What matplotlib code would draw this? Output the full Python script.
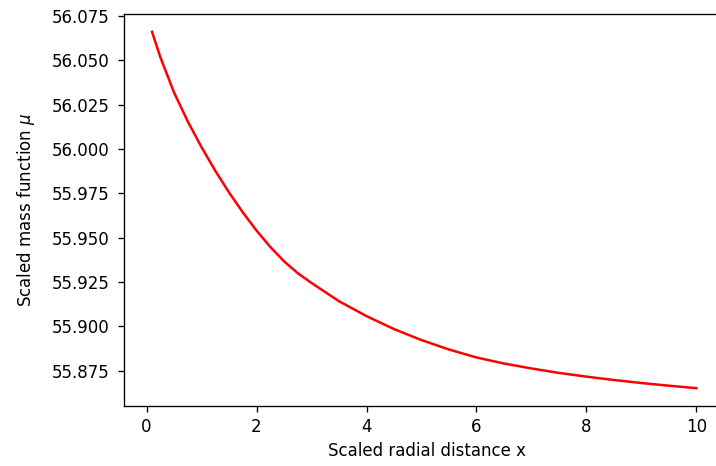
import matplotlib
matplotlib.use("Agg")
import matplotlib.pyplot as plt

x_vals = [0.1, 0.25, 0.5, 0.75, 1.0, 1.25, 1.5, 1.75, 2.0, 2.25, 2.5, 2.75, 3.0,
          3.5, 4.0, 4.5, 5.0, 5.5, 6.0, 6.5, 7.0, 7.5, 8.0, 8.5, 9.0, 9.5, 10.0]
mu_vals = [56.066, 56.0518, 56.0318, 56.0155, 56.0010, 55.9877, 55.9755, 55.9643,
           55.9540, 55.9448, 55.9367, 55.9300, 55.9245, 55.9142, 55.9058, 55.8985,
           55.8923, 55.8870, 55.8825, 55.8791, 55.8763, 55.8738, 55.8717, 55.8698,
           55.8681, 55.8666, 55.8652]

DPI = 120
W, H = 716, 466
fig = plt.figure(figsize=(W / DPI, H / DPI), dpi=DPI)
left, right, top, bottom = 124, 730, 14, 406
ax = fig.add_axes([left / W, (H - bottom) / H, (right - left) / W, (bottom - top) / H])
ax.plot(x_vals, mu_vals, color="red")
ax.set_xlim(-0.41, 10.61)
ax.spines["right"].set_visible(False)
ax.set_xlabel("Scaled radial distance x")
ax.set_ylabel(r"Scaled mass function $\mu$", labelpad=9)
ax.set_xticks([0, 2, 4, 6, 8, 10])
ax.set_yticks([55.875, 55.9, 55.925, 55.95, 55.975, 56.0, 56.025, 56.05, 56.075])
ax.tick_params(axis="y", pad=5)
ax.yaxis.set_major_formatter(matplotlib.ticker.FormatStrFormatter("%.3f"))
fig.savefig("out.png", dpi=DPI)
